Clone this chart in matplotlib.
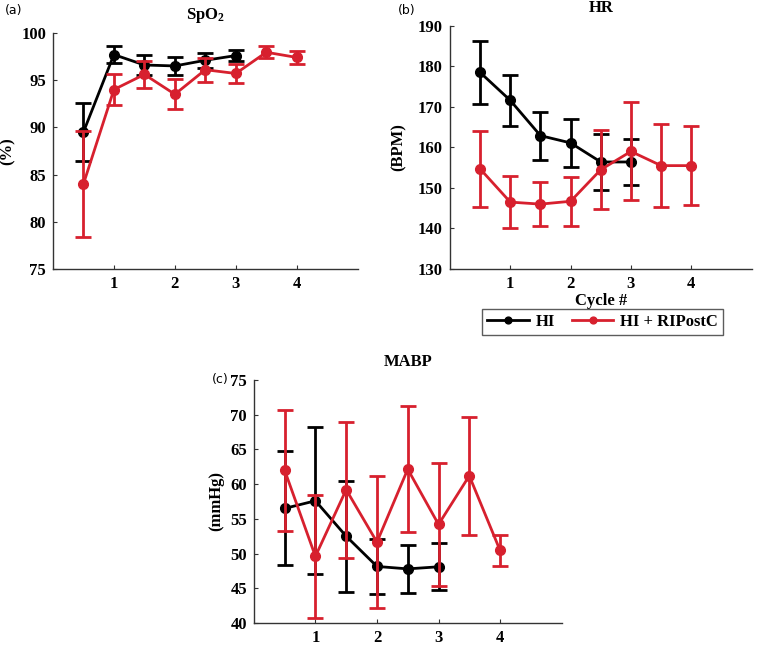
import matplotlib
matplotlib.use("Agg")
import matplotlib.pyplot as plt

plt.rcParams['font.family'] = 'Liberation Serif'
plt.rcParams['font.weight'] = 'bold'
plt.rcParams['mathtext.fontset'] = 'custom'
plt.rcParams['mathtext.rm'] = 'Liberation Serif:bold'
plt.rcParams['mathtext.it'] = 'Liberation Serif:bold'
plt.rcParams['mathtext.bf'] = 'Liberation Serif:bold'

# === data ===
cycle_hi = [0.5, 1, 1.5, 2, 2.5, 3]
cycle_rip = [0.5, 1, 1.5, 2, 2.5, 3, 3.5, 4]

spo2_hi = [89.5, 97.7, 96.6, 96.5, 97.1, 97.6]
spo2_hi_err = [3.1, 0.9, 1.1, 1.0, 0.8, 0.6]
spo2_rip = [84.0, 94.0, 95.6, 93.5, 96.1, 95.7, 97.95, 97.4]
spo2_rip_err = [5.6, 1.65, 1.4, 1.6, 1.25, 1.0, 0.65, 0.7]

hr_hi = [178.5, 171.6, 162.9, 161.1, 156.4, 156.4]
hr_hi_err = [7.7, 6.3, 5.9, 5.85, 7.0, 5.75]
hr_rip = [154.7, 146.5, 146.0, 146.7, 154.5, 159.0, 155.5, 155.5]
hr_rip_err = [9.45, 6.5, 5.4, 6.0, 9.7, 12.1, 10.3, 9.8]

mabp_hi = [56.5, 57.6, 52.5, 48.15, 47.8, 48.1]
mabp_hi_err = [8.2, 10.6, 8.0, 3.9, 3.5, 3.4]
mabp_rip = [62.0, 49.6, 59.2, 51.65, 62.15, 54.2, 61.2, 50.45]
mabp_rip_err = [8.7, 8.9, 9.8, 9.5, 9.1, 8.9, 8.5, 2.25]

black = "#000000"
red = "#d7202e"

fig = plt.figure(figsize=(7.6, 6.45), dpi=100)

panels = [
    # title, ylabel, ylim, yticks, hi, hi_err, rip, rip_err, position, letter, letter pos, ylabel x
    ("SpO$_2$", "(%)", (75, 100), range(75, 101, 5), spo2_hi, spo2_hi_err,
     spo2_rip, spo2_rip_err, [0.0697, 0.583, 0.401, 0.366], "(a)", (0.007, 0.984), -0.122),
    ("HR", "(BPM)", (130, 190), range(130, 191, 10), hr_hi, hr_hi_err,
     hr_rip, hr_rip_err, [0.592, 0.583, 0.397, 0.377], "(b)", (0.524, 0.984), -0.142),
    ("MABP", "(mmHg)", (40, 75), range(40, 76, 5), mabp_hi, mabp_hi_err,
     mabp_rip, mabp_rip_err, [0.334, 0.034, 0.405, 0.377], "(c)", (0.279, 0.411), -0.097),
]

axes = []
for title, ylab, ylim, yticks, hi, hi_err, rip, rip_err, pos, letter, lpos, ylx in panels:
    ax = fig.add_axes(pos)
    ax.errorbar(cycle_hi, hi, yerr=hi_err, color=black, lw=2, marker='o', ms=7,
                capsize=5.5, capthick=2, elinewidth=2, label="HI", zorder=2)
    ax.errorbar(cycle_rip, rip, yerr=rip_err, color=red, lw=2, marker='o', ms=7,
                capsize=5.5, capthick=2, elinewidth=2, label="HI + RIPostC", zorder=3)
    ax.set_xlim(0, 5)
    ax.set_ylim(*ylim)
    ax.set_xticks([1, 2, 3, 4])
    ax.set_yticks(list(yticks))
    ax.spines['top'].set_visible(False)
    ax.spines['right'].set_visible(False)
    for s in ('left', 'bottom'):
        ax.spines[s].set_color('#333333')
        ax.spines[s].set_linewidth(1.0)
    ax.tick_params(direction='in', length=3, labelsize=12, pad=5, color='#333333')
    ax.set_title(title, fontsize=12, fontweight='bold', pad=10)
    ax.set_ylabel(ylab, fontsize=12, fontweight='bold')
    ax.yaxis.set_label_coords(ylx, 0.5)
    fig.text(lpos[0], lpos[1], letter, family='DejaVu Sans', fontweight='normal',
             fontsize=9, va='center', ha='left')
    axes.append(ax)

axes[1].set_xlabel("Cycle #", fontsize=12, fontweight='bold', labelpad=1)

handles, labels = axes[1].get_legend_handles_labels()
handles = [h[0] for h in handles]
leg = fig.legend(handles, labels, ncol=2, loc='center',
                 bbox_to_anchor=(0.793, 0.501), fontsize=12, frameon=True,
                 fancybox=False, edgecolor='#333333', handlelength=2.5,
                 handletextpad=0.4, columnspacing=1.0, borderpad=0.3,
                 markerscale=0.7)
leg.get_frame().set_linewidth(1.0)

fig.savefig("out.png", dpi=100)
